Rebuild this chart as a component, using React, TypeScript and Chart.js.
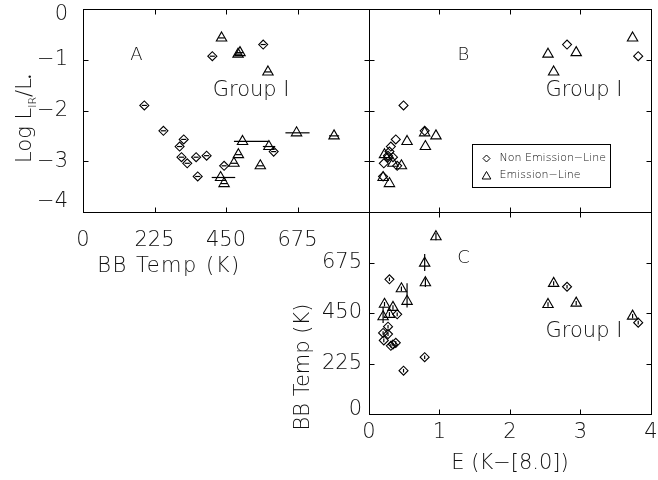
import React, { useEffect, useRef } from 'react';
import { Chart, registerables } from 'chart.js';

Chart.register(...registerables);

const FONT = "'DejaVu Sans', 'Liberation Sans', sans-serif";
const WEIGHT = 200;
const INK = '#000';
const TEXT = '#111';
const W = 658;
const H = 480;

// Sources without emission lines (diamonds)
const nonTemp = [193, 253, 317, 304, 310, 328, 356, 389, 361, 444, 407, 567, 600];
const nonTempLo = [185, 245, 309, 296, 302, 320, 348, 381, 353, 436, 399, 559, 592];
const nonTempHi = [201, 261, 325, 312, 318, 336, 364, 397, 369, 452, 415, 575, 608];
const nonLogL = [-1.9, -2.4, -2.57, -2.71, -2.92, -3.04, -2.92, -2.89, -3.3, -3.09, -0.93, -0.7, -2.81];
const nonExcess = [0.49, 0.79, 0.38, 0.31, 0.34, 0.21, 0.27, 0.27, 0.2, 0.4, 3.82, 2.81, 0.29];

// Emission-line sources (triangles)
const emTemp = [436, 488, 494, 582, 502, 585, 489, 475, 558, 433, 444, 672, 790];
const emTempLo = [426, 478, 484, 572, 475, 566, 479, 465, 548, 405, 434, 637, 774];
const emTempHi = [446, 498, 504, 592, 583, 605, 499, 485, 568, 479, 454, 713, 806];
const emLogL = [-0.57, -0.89, -0.86, -1.24, -2.61, -2.71, -2.87, -3.04, -3.09, -3.32, -3.44, -2.44, -2.5];
const emExcess = [3.74, 2.54, 2.94, 2.62, 0.54, 0.8, 0.22, 0.34, 0.46, 0.2, 0.29, 0.79, 0.95];

// Axis ticks
const tempTicks = [0, 225, 450, 675, 900];
const logTicks = [0, -1, -2, -3, -4];
const excessTicks = [0, 1, 2, 3, 4];

const fmtTemp = (v: number) => (v >= 900 ? '' : String(v));
const fmtLog = (v: number) => (v === 0 ? '0' : '\u2212' + Math.abs(v));
const fmtExcess = (v: number) => String(v);

type Key = 'temp' | 'logL' | 'excess';
type Area = { left: number; top: number; right: number; bottom: number };
type Part = { text: string; size: number; dy: number };
type Note = {
  parts: Part[];
  x: number;
  y: number;
  data?: boolean;
  rotate?: boolean;
  spacing?: number;
};

type Panel = {
  xKey: Key;
  yKey: Key;
  area: Area;
  xLabels: boolean;
  yLabels: boolean;
  xPad: number;
  yPad: number;
  yClampTop: number;
  yClampBottom: number;
  errAxis: 'x' | 'y' | null;
  notes: Note[];
  legend: boolean;
};

const axisDefs: Record<Key, { min: number; max: number; ticks: number[]; fmt: (v: number) => string }> = {
  temp: { min: 0, max: 900, ticks: tempTicks, fmt: fmtTemp },
  logL: { min: -4, max: 0, ticks: logTicks, fmt: fmtLog },
  excess: { min: 0, max: 4, ticks: excessTicks, fmt: fmtExcess },
};

const seriesValues = (key: Key, emission: boolean) => {
  if (key === 'temp') return emission ? emTemp : nonTemp;
  if (key === 'logL') return emission ? emLogL : nonLogL;
  return emission ? emExcess : nonExcess;
};

const txt = (text: string, size = 21, dy = 0): Part => ({ text, size, dy });
const fontStr = (size: number) => `${WEIGHT} ${size}px ${FONT}`;

function drawParts(
  ctx: CanvasRenderingContext2D,
  parts: Part[],
  x: number,
  y: number,
  rotate: boolean,
  spacing: number
) {
  ctx.save();
  ctx.translate(x, y);
  if (rotate) ctx.rotate(-Math.PI / 2);
  (ctx as any).letterSpacing = `${spacing}px`;
  let total = 0;
  const widths = parts.map((p) => {
    ctx.font = fontStr(p.size);
    const w = ctx.measureText(p.text).width;
    total += w;
    return w;
  });
  let cx = -total / 2;
  ctx.fillStyle = TEXT;
  ctx.textAlign = 'left';
  ctx.textBaseline = 'alphabetic';
  const base = parts[0] ? parts[0].size * 0.36 : 0;
  parts.forEach((p, i) => {
    ctx.font = fontStr(p.size);
    ctx.fillText(p.text, cx, base + p.dy);
    cx += widths[i];
  });
  ctx.restore();
}

function diamondPath(ctx: CanvasRenderingContext2D, x: number, y: number, r: number) {
  ctx.beginPath();
  ctx.moveTo(x - r, y);
  ctx.lineTo(x, y - r);
  ctx.lineTo(x + r, y);
  ctx.lineTo(x, y + r);
  ctx.closePath();
}

function trianglePath(ctx: CanvasRenderingContext2D, x: number, y: number, r: number) {
  ctx.beginPath();
  ctx.moveTo(x, y - r);
  ctx.lineTo(x + r * Math.sin((2 * Math.PI) / 3), y + r / 2);
  ctx.lineTo(x - r * Math.sin((2 * Math.PI) / 3), y + r / 2);
  ctx.closePath();
}

function makeChart(canvas: HTMLCanvasElement, p: Panel) {
  const xd = axisDefs[p.xKey];
  const yd = axisDefs[p.yKey];
  const yWidth = p.area.left;
  const xHeight = H - p.area.bottom;

  const toPoints = (emission: boolean) => {
    const xs = seriesValues(p.xKey, emission);
    const ys = seriesValues(p.yKey, emission);
    return xs.map((v, i) => ({ x: v, y: ys[i] }));
  };

  const framePlugin = {
    id: 'frameTicks',
    afterDatasetsDraw(chart: any) {
      const { ctx, chartArea: a, scales } = chart;
      const l = Math.round(a.left) + 0.5;
      const r = Math.round(a.right) + 0.5;
      const t = Math.round(a.top) + 0.5;
      const b = Math.round(a.bottom) + 0.5;
      const len = 5;
      ctx.save();
      ctx.strokeStyle = INK;
      ctx.lineWidth = 1.2;

      // temperature error bars
      if (p.errAxis) {
        const drawErr = (emission: boolean) => {
          const lo = emission ? emTempLo : nonTempLo;
          const hi = emission ? emTempHi : nonTempHi;
          const other = seriesValues(p.errAxis === 'x' ? p.yKey : p.xKey, emission);
          lo.forEach((v, i) => {
            ctx.beginPath();
            if (p.errAxis === 'x') {
              const py = scales.y.getPixelForValue(other[i]);
              ctx.moveTo(scales.x.getPixelForValue(v), py);
              ctx.lineTo(scales.x.getPixelForValue(hi[i]), py);
            } else {
              const px = scales.x.getPixelForValue(other[i]);
              ctx.moveTo(px, scales.y.getPixelForValue(v));
              ctx.lineTo(px, scales.y.getPixelForValue(hi[i]));
            }
            ctx.stroke();
          });
        };
        drawErr(false);
        drawErr(true);
      }

      ctx.lineWidth = 1;
      ctx.strokeRect(l, t, r - l, b - t);
      ctx.beginPath();
      xd.ticks.forEach((v) => {
        const px = Math.round(scales.x.getPixelForValue(v)) + 0.5;
        ctx.moveTo(px, b);
        ctx.lineTo(px, b - len);
        ctx.moveTo(px, t);
        ctx.lineTo(px, t + len);
      });
      yd.ticks.forEach((v) => {
        const py = Math.round(scales.y.getPixelForValue(v)) + 0.5;
        ctx.moveTo(l, py);
        ctx.lineTo(l + len, py);
        ctx.moveTo(r, py);
        ctx.lineTo(r - len, py);
      });
      ctx.stroke();
      ctx.restore();
    },
    afterDraw(chart: any) {
      const { ctx, chartArea: a, scales } = chart;

      // y tick labels, kept inside the panel's height at both ends
      if (p.yLabels) {
        ctx.save();
        ctx.fillStyle = TEXT;
        ctx.font = fontStr(21);
        ctx.textAlign = 'right';
        ctx.textBaseline = 'middle';
        yd.ticks.forEach((v) => {
          const label = yd.fmt(v);
          if (!label) return;
          const py = scales.y.getPixelForValue(v);
          const y = Math.min(Math.max(py, a.top + p.yClampTop), a.bottom - p.yClampBottom);
          ctx.fillText(label, a.left - p.yPad, y);
        });
        ctx.restore();
      }

      p.notes.forEach((n) => {
        const x = n.data ? scales.x.getPixelForValue(n.x) : n.x;
        const y = n.data ? scales.y.getPixelForValue(n.y) : n.y;
        drawParts(ctx, n.parts, x, y, !!n.rotate, n.spacing || 0);
      });

      if (p.legend) {
        const bx = Math.round(a.left + 103) + 0.5;
        const by = Math.round(a.top + 135) + 0.5;
        ctx.save();
        ctx.strokeStyle = INK;
        ctx.lineWidth = 1;
        ctx.strokeRect(bx, by, 138, 43);
        diamondPath(ctx, bx + 14, by + 14, 3.5);
        ctx.stroke();
        trianglePath(ctx, bx + 14, by + 32, 5);
        ctx.stroke();
        ctx.fillStyle = TEXT;
        ctx.font = fontStr(11);
        ctx.textBaseline = 'middle';
        ctx.textAlign = 'left';
        ctx.fillText('Non Emission\u2212Line', bx + 27, by + 14);
        ctx.fillText('Emission\u2212Line', bx + 27, by + 31);
        ctx.restore();
      }
    },
  };

  const tickFont = { family: FONT, size: 21, weight: WEIGHT };

  return new Chart(canvas, {
    type: 'scatter',
    data: {
      datasets: [
        {
          label: 'Non Emission-Line',
          data: toPoints(false),
          pointStyle: 'rectRot',
          pointRadius: 4.5,
          pointBorderWidth: 1.1,
          borderColor: INK,
          backgroundColor: 'rgba(0,0,0,0)',
        },
        {
          label: 'Emission-Line',
          data: toPoints(true),
          pointStyle: 'triangle',
          pointRadius: 6,
          pointBorderWidth: 1.1,
          borderColor: INK,
          backgroundColor: 'rgba(0,0,0,0)',
        },
      ],
    },
    options: {
      responsive: false,
      animation: false,
      events: [],
      layout: { padding: { top: p.area.top, right: W - p.area.right, left: 0, bottom: 0 } },
      plugins: { legend: { display: false }, tooltip: { enabled: false } },
      scales: {
        x: {
          type: 'linear',
          min: xd.min,
          max: xd.max,
          afterBuildTicks: (s: any) => {
            s.ticks = xd.ticks.map((v) => ({ value: v }));
          },
          afterFit: (s: any) => {
            s.height = xHeight;
            s.paddingLeft = 0;
            s.paddingRight = 0;
          },
          grid: { display: false, drawTicks: false, tickLength: 0 },
          border: { display: false },
          ticks: {
            display: p.xLabels,
            padding: p.xPad,
            autoSkip: false,
            maxRotation: 0,
            color: TEXT,
            font: tickFont,
            callback: (v: any) => xd.fmt(Number(v)),
          },
        },
        y: {
          type: 'linear',
          min: yd.min,
          max: yd.max,
          afterBuildTicks: (s: any) => {
            s.ticks = yd.ticks.map((v) => ({ value: v }));
          },
          afterFit: (s: any) => {
            s.width = yWidth;
            s.paddingTop = 0;
            s.paddingBottom = 0;
          },
          grid: { display: false, drawTicks: false, tickLength: 0 },
          border: { display: false },
          ticks: { display: false },
        },
      },
    } as any,
    plugins: [framePlugin],
  });
}

const panels: Panel[] = [
  {
    xKey: 'temp',
    yKey: 'logL',
    area: { left: 83, top: 9, right: 369, bottom: 212 },
    xLabels: true,
    yLabels: true,
    xPad: 16,
    yPad: 15,
    yClampTop: 6,
    yClampBottom: 10,
    errAxis: 'x',
    legend: false,
    notes: [
      { parts: [txt('A', 18)], x: 168, y: -0.87, data: true },
      { parts: [txt('Group I')], x: 529, y: -1.56, data: true },
      { parts: [txt('BB Temp (K)')], x: 169, y: 264, spacing: 1.5 },
      {
        parts: [txt('Log L'), txt('IR', 11, 5), txt('/L'), txt('\u2022', 9, 2)],
        x: 23,
        y: 119,
        rotate: true,
      },
    ],
  },
  {
    xKey: 'excess',
    yKey: 'logL',
    area: { left: 369, top: 9, right: 654, bottom: 212 },
    xLabels: false,
    yLabels: false,
    xPad: 0,
    yPad: 0,
    yClampTop: 0,
    yClampBottom: 0,
    errAxis: null,
    legend: true,
    notes: [
      { parts: [txt('B', 18)], x: 1.34, y: -0.87, data: true },
      { parts: [txt('Group I')], x: 3.05, y: -1.56, data: true },
    ],
  },
  {
    xKey: 'excess',
    yKey: 'temp',
    area: { left: 369, top: 212, right: 654, bottom: 414 },
    xLabels: true,
    yLabels: true,
    xPad: 6,
    yPad: 7,
    yClampTop: 0,
    yClampBottom: 4,
    errAxis: 'y',
    legend: false,
    notes: [
      { parts: [txt('C', 18)], x: 1.34, y: 703, data: true },
      { parts: [txt('Group I')], x: 3.05, y: 376, data: true },
      { parts: [txt('E (K\u2212[8.0])')], x: 510, y: 461 },
      { parts: [txt('BB Temp (K)')], x: 301, y: 367, rotate: true },
    ],
  },
];

function PanelCanvas({ panel }: { panel: Panel }) {
  const ref = useRef<HTMLCanvasElement | null>(null);
  useEffect(() => {
    if (!ref.current) return;
    const chart = makeChart(ref.current, panel);
    return () => chart.destroy();
  }, [panel]);
  return (
    <canvas
      ref={ref}
      width={W}
      height={H}
      style={{ position: 'absolute', left: 0, top: 0, width: W, height: H }}
    />
  );
}

export default function App() {
  return (
    <div
      style={{
        position: 'fixed',
        left: 0,
        top: 0,
        width: W,
        height: H,
        background: '#fff',
        overflow: 'hidden',
      }}
    >
      {panels.map((p, i) => (
        <PanelCanvas key={i} panel={p} />
      ))}
    </div>
  );
}
